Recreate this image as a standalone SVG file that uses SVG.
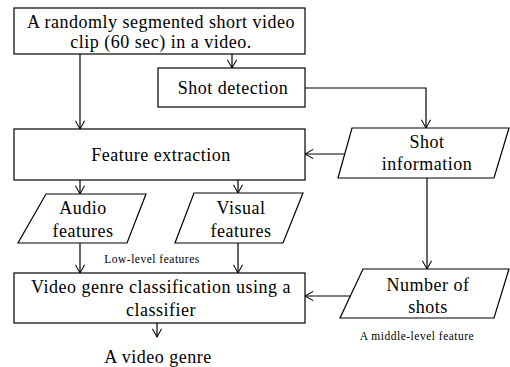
<svg xmlns="http://www.w3.org/2000/svg" width="510" height="367" viewBox="0 0 510 367">
<defs>
<style>
.box{fill:#fff;stroke:#000;stroke-width:1.2}
.t{font-family:"Liberation Serif","Times New Roman",serif;font-size:18px;letter-spacing:0.5px;fill:#000;text-anchor:middle}
.s{font-family:"Liberation Serif","Times New Roman",serif;font-size:11.5px;letter-spacing:0.5px;fill:#000;text-anchor:middle}
.c{fill:none;stroke:#000;stroke-width:1.2}
</style>
<marker id="a" viewBox="0 0 12 12" refX="11" refY="6" markerWidth="11" markerHeight="11" markerUnits="userSpaceOnUse" orient="auto">
<polyline points="2,1 11,6 2,11" fill="none" stroke="#000" stroke-width="1.1"/>
</marker>
</defs>
<rect width="510" height="367" fill="#fff"/>
<g id="connectors">
<line class="c" x1="80" y1="54" x2="80" y2="129" marker-end="url(#a)"/>
<line class="c" x1="232" y1="54" x2="232" y2="68" marker-end="url(#a)"/>
<polyline class="c" points="305,88 426,88 426,128" marker-end="url(#a)"/>
<line class="c" x1="346" y1="154" x2="305" y2="154" marker-end="url(#a)"/>
<line class="c" x1="80" y1="180" x2="80" y2="194" marker-end="url(#a)"/>
<line class="c" x1="238" y1="180" x2="238" y2="193" marker-end="url(#a)"/>
<line class="c" x1="80" y1="243" x2="80" y2="273" marker-end="url(#a)"/>
<line class="c" x1="238" y1="243" x2="238" y2="273" marker-end="url(#a)"/>
<line class="c" x1="427" y1="178" x2="427" y2="269" marker-end="url(#a)"/>
<line class="c" x1="352" y1="296" x2="305" y2="296" marker-end="url(#a)"/>
<line class="c" x1="157" y1="323" x2="157" y2="337" marker-end="url(#a)"/>
</g>
<g id="clip">
<rect class="box" x="14" y="8" width="291" height="46"/>
<text class="t" x="161" y="28">A randomly segmented short video</text>
<text class="t" x="161" y="48">clip (60 sec) in a video.</text>
</g>
<g id="shot-detection">
<rect class="box" x="158" y="68" width="147" height="39"/>
<text class="t" x="233" y="94">Shot detection</text>
</g>
<g id="feature-extraction">
<rect class="box" x="14" y="129" width="291" height="51"/>
<text class="t" x="161" y="161">Feature extraction</text>
</g>
<g id="shot-information">
<polygon class="box" points="352,128 509,128 494,178 338,178"/>
<text class="t" x="427" y="148">Shot</text>
<text class="t" x="427" y="170">information</text>
</g>
<g id="audio-features">
<polygon class="box" points="46,194 146,194 127,243 18,243"/>
<text class="t" x="83" y="214">Audio</text>
<text class="t" x="83" y="237">features</text>
</g>
<g id="visual-features">
<polygon class="box" points="194,193 303,193 283,243 175,243"/>
<text class="t" x="241" y="214">Visual</text>
<text class="t" x="241" y="237">features</text>
</g>
<text class="s" x="152" y="263">Low-level features</text>
<g id="classification">
<rect class="box" x="14" y="273" width="291" height="50"/>
<text class="t" x="161" y="293">Video genre classification using a</text>
<text class="t" x="161" y="316">classifier</text>
</g>
<g id="number-of-shots">
<polygon class="box" points="363,269 509,269 494,318 340,318"/>
<text class="t" x="428" y="291">Number of</text>
<text class="t" x="428" y="313">shots</text>
</g>
<text class="s" x="417" y="340">A middle-level feature</text>
<text class="t" x="158" y="363">A video genre</text>
</svg>
